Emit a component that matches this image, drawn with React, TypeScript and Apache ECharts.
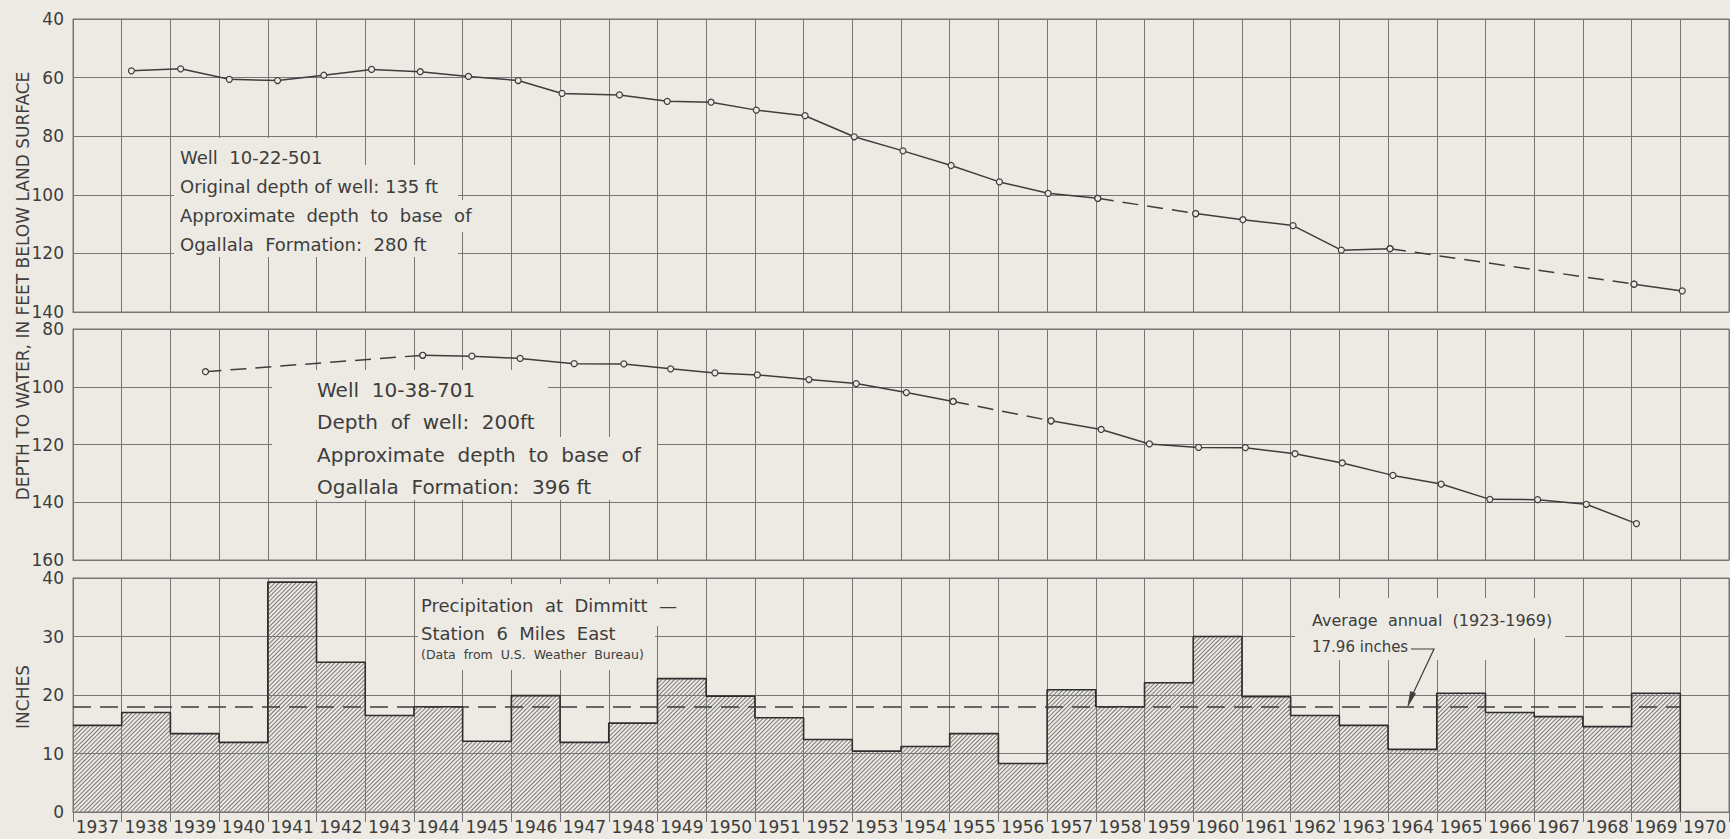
import React, { useEffect, useRef } from "react";
import * as echarts from "echarts";

const BG = "#edeae3";
const INK = "#3d3d3d";
const GRIDC = "#767676";
const FONT = '"DejaVu Sans", "Liberation Sans", sans-serif';

// Well 10-22-501: measurement date (decimal year) and depth to water (ft)
const well1Dates = [
  1938.2, 1939.21, 1940.21, 1941.2, 1942.15, 1943.13, 1944.13, 1945.12, 1946.14, 1947.04,
  1948.22, 1949.2, 1950.1, 1951.03, 1952.03, 1953.04, 1954.04, 1955.03, 1956.02, 1957.02,
  1958.04, 1960.05, 1961.02, 1962.05, 1963.04, 1964.04, 1969.05, 1970.04,
];
const well1Depths = [
  57.7, 57.0, 60.6, 61.0, 59.2, 57.2, 58.0, 59.6, 61.0, 65.4,
  65.9, 68.1, 68.4, 71.1, 73.0, 80.2, 85.0, 90.0, 95.6, 99.5,
  101.2, 106.4, 108.5, 110.5, 118.9, 118.4, 130.5, 132.8,
];
// segments: [fromIndex, toIndex, style]
const well1Segments: [number, number, string][] = [
  [0, 20, "solid"], [20, 21, "dashed"], [21, 25, "solid"], [25, 26, "dashed"], [26, 27, "solid"],
];

// Well 10-38-701
const well2Dates = [
  1939.72, 1944.18, 1945.19, 1946.18, 1947.29, 1948.31, 1949.27, 1950.18, 1951.05, 1952.11,
  1953.08, 1954.11, 1955.07, 1957.08, 1958.11, 1959.1, 1960.11, 1961.07, 1962.09, 1963.06,
  1964.1, 1965.09, 1966.09, 1967.07, 1968.07, 1969.1,
];
const well2Depths = [
  94.8, 89.1, 89.4, 90.2, 92.0, 92.1, 93.8, 95.2, 95.9, 97.5,
  98.9, 102.0, 105.1, 111.8, 114.8, 119.8, 121.0, 121.1, 123.2, 126.4,
  130.7, 133.7, 139.0, 139.1, 140.7, 147.4,
];
const well2Segments: [number, number, string][] = [
  [0, 1, "dashed"], [1, 12, "solid"], [12, 13, "dashed"], [13, 25, "solid"],
];

// Precipitation at Dimmitt (inches)
const years = [
  "1937", "1938", "1939", "1940", "1941", "1942", "1943", "1944", "1945", "1946", "1947", "1948",
  "1949", "1950", "1951", "1952", "1953", "1954", "1955", "1956", "1957", "1958", "1959", "1960",
  "1961", "1962", "1963", "1964", "1965", "1966", "1967", "1968", "1969", "1970",
];
const precipInches = [
  14.8, 17.0, 13.4, 11.9, 39.3, 25.6, 16.5, 18.0, 12.1, 19.9, 11.9, 15.2,
  22.8, 19.8, 16.1, 12.4, 10.4, 11.2, 13.4, 8.3, 20.9, 18.0, 22.1, 30.0,
  19.7, 16.5, 14.8, 10.7, 20.3, 17.0, 16.3, 14.6, 20.3, null,
];
const averageAnnual = 17.96;
const averageSpan = [1937, 1970];

const textLines = (lines: string[], x: number, ys: number[], size: number) =>
  lines.map((t, i) => ({
    type: "text",
    x,
    y: ys[i],
    z: 10,
    style: { text: t, fontSize: size, fontFamily: FONT, fill: INK, align: "left", verticalAlign: "middle" },
  }));

const mask = (x: number, y: number, w: number, h: number) => ({
  type: "rect",
  z: 1,
  shape: { x, y, width: w, height: h },
  style: { fill: BG },
});

export default function App() {
  const ref = useRef<HTMLDivElement>(null);
  useEffect(() => {
    document.body.style.margin = "0";
    document.body.style.background = BG;
    document.body.style.overflow = "hidden";
    const chart = echarts.init(ref.current!, null, { renderer: "svg" });

    const gridBase = {
      left: 73, right: 1, show: true, borderColor: GRIDC, borderWidth: 1,
      backgroundColor: "transparent", containLabel: false, outerBoundsMode: "none",
    };
    const splitLine = { show: true, lineStyle: { color: GRIDC, width: 1 } };
    const axisLine = { show: true, lineStyle: { color: GRIDC, width: 1 } };
    const yLabel = { fontSize: 17, color: INK, fontFamily: FONT, margin: 9, showMinLabel: true, showMaxLabel: true };

    const valueX = (gridIndex: number, show = true) => ({
      gridIndex, type: "value", min: 1937, max: 1971, interval: 1, show,
      axisLabel: { show: false }, axisTick: { show: false }, axisLine, splitLine,
    });

    const lineSeries = (dates: number[], depths: number[], segs: [number, number, string][], axis: number) =>
      segs.map(([a, b, style]) => ({
        type: "line",
        xAxisIndex: axis,
        yAxisIndex: axis,
        z: 4,
        data: dates.slice(a, b + 1).map((d, i) => [d, depths[a + i]]),
        symbol: "circle",
        symbolSize: 6,
        showSymbol: true,
        itemStyle: { color: BG, borderColor: INK, borderWidth: 1.2 },
        lineStyle: { color: INK, width: 1.5, type: style === "dashed" ? [16, 9] : "solid" },
        emphasis: { disabled: true },
      }));

    // step outline along the tops of the precipitation bars
    const stepPoints: number[][] = [];
    precipInches.forEach((v, i) => {
      if (v != null) stepPoints.push([Number(years[i]), v]);
    });
    const lastYear = stepPoints[stepPoints.length - 1][0] + 1;
    stepPoints.push([lastYear, stepPoints[stepPoints.length - 1][1]]);
    stepPoints.push([lastYear, 0]);

    const option: any = {
      animation: false,
      backgroundColor: BG,
      grid: [
        { ...gridBase, top: 19, height: 293 },
        { ...gridBase, top: 329, height: 231 },
        { ...gridBase, top: 578, height: 234 },
      ],
      xAxis: [
        valueX(0),
        valueX(1),
        {
          gridIndex: 2, type: "category", data: years, boundaryGap: true,
          axisLine,
          axisTick: { show: true, interval: 0, length: 10, lineStyle: { color: GRIDC } },
          axisLabel: { interval: 0, fontSize: 17, color: INK, fontFamily: FONT, margin: 6 },
          splitLine: { ...splitLine, interval: 0 },
        },
        { ...valueX(2, false) },
      ],
      yAxis: [
        {
          gridIndex: 0, type: "value", inverse: true, min: 40, max: 140, interval: 20,
          axisLine, axisTick: { show: false }, axisLabel: yLabel, splitLine,
        },
        {
          gridIndex: 1, type: "value", inverse: true, min: 80, max: 160, interval: 20,
          axisLine, axisTick: { show: false }, axisLabel: yLabel, splitLine,
        },
        {
          gridIndex: 2, type: "value", min: 0, max: 40, interval: 10,
          axisLine, axisTick: { show: false }, axisLabel: yLabel, splitLine,
        },
      ],
      series: [
        ...lineSeries(well1Dates, well1Depths, well1Segments, 0),
        ...lineSeries(well2Dates, well2Depths, well2Segments, 1),
        {
          type: "bar",
          xAxisIndex: 2,
          yAxisIndex: 2,
          z: 2,
          data: precipInches,
          barWidth: "100%",
          barCategoryGap: "0%",
          itemStyle: {
            color: "rgba(0,0,0,0)",
            borderWidth: 0,
            decal: {
              symbol: "rect",
              symbolSize: 1,
              color: "#7a7a7a",
              backgroundColor: null,
              dashArrayX: [1, 0],
              dashArrayY: [1, 2],
              rotation: -Math.PI / 4,
            },
          },
          emphasis: { disabled: true },
        },
        {
          type: "line",
          xAxisIndex: 3,
          yAxisIndex: 2,
          z: 3,
          symbol: "none",
          step: "end",
          data: stepPoints,
          lineStyle: { color: "#2e2e2e", width: 1.6 },
          emphasis: { disabled: true },
        },
        {
          type: "line",
          xAxisIndex: 3,
          yAxisIndex: 2,
          z: 4,
          symbol: "none",
          data: averageSpan.map((x) => [x, averageAnnual]),
          lineStyle: { color: INK, width: 1.5, type: [18, 9] },
          emphasis: { disabled: true },
        },
      ],
      graphic: [
        // masks behind annotation text
        mask(174, 165, 284, 92),
        mask(174, 138, 176, 28),
        mask(458, 200, 22, 32),
        mask(272, 370, 276, 130),
        mask(548, 437, 109, 63),
        mask(418, 584, 264, 42),
        mask(418, 626, 237, 44),
        mask(1295, 598, 270, 40),
        mask(1295, 638, 192, 22),
        {
          type: "text", x: 23, y: 286, rotation: Math.PI / 2, z: 10,
          style: {
            text: "DEPTH TO WATER, IN FEET BELOW LAND SURFACE", fontSize: 17, fontFamily: FONT,
            fill: INK, align: "center", verticalAlign: "middle",
          },
        },
        {
          type: "text", x: 23, y: 697, rotation: Math.PI / 2, z: 10,
          style: { text: "INCHES", fontSize: 17, fontFamily: FONT, fill: INK, align: "center", verticalAlign: "middle" },
        },
        ...textLines(
          ["Well  10-22-501", "Original depth of well: 135 ft", "Approximate  depth  to  base  of", "Ogallala  Formation:  280 ft"],
          180, [157, 186, 215, 244], 18,
        ),
        ...textLines(
          ["Well  10-38-701", "Depth  of  well:  200ft", "Approximate  depth  to  base  of", "Ogallala  Formation:  396 ft"],
          317, [390, 422, 455, 487], 20,
        ),
        ...textLines(["Precipitation  at  Dimmitt  \u2014", "Station  6  Miles  East"], 421, [605, 633], 18),
        ...textLines(["(Data  from  U.S.  Weather  Bureau)"], 421, [654], 12.5),
        ...textLines(["Average  annual  (1923-1969)"], 1312, [620], 16),
        ...textLines(["17.96 inches"], 1312, [647], 15),
        {
          type: "polyline", z: 10,
          shape: { points: [[1411, 649], [1434, 649], [1410, 700]] },
          style: { stroke: INK, lineWidth: 1.2, fill: null },
        },
        {
          type: "polygon", z: 10,
          shape: { points: [[1408, 706], [1415.5, 693.5], [1410.5, 691.5]] },
          style: { fill: INK, stroke: INK, lineWidth: 0.8 },
        },
      ],
    };
    chart.setOption(option);
    return () => chart.dispose();
  }, []);
  return <div ref={ref} style={{ width: 1730, height: 839 }} />;
}
